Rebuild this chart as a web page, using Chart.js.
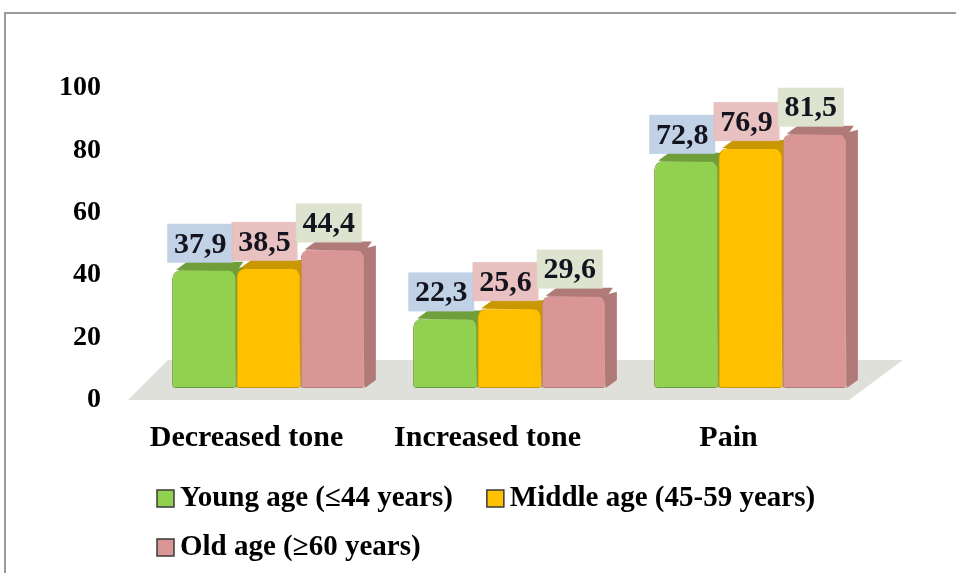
<!DOCTYPE html>
<html>
<head>
<meta charset="utf-8">
<script src="https://cdn.jsdelivr.net/npm/chart.js@4"></script>
<style>
  html, body { margin: 0; padding: 0; background: #fff; }
  #frame { position: absolute; left: 4px; top: 12px; width: 960px; height: 570px;
           border-top: 2px solid #9a9a9a; border-left: 2px solid #9a9a9a; }
  #chart { position: absolute; left: 0; top: 0; }
</style>
</head>
<body>
<div id="frame"></div>
<canvas id="chart" width="956" height="573"></canvas>
<script>
// categories and series values
const categories = ['Decreased tone', 'Increased tone', 'Pain'];
const seriesLabels = ['Young age (\u226444 years)', 'Middle age (45-59 years)', 'Old age (\u226560 years)'];
const youngValues = [37.9, 22.3, 72.8];
const middleValues = [38.5, 25.6, 76.9];
const oldValues = [44.4, 29.6, 81.5];

const serif = '"Liberation Serif", "Times New Roman", serif';
const frontColors = ['#92d050', '#ffc000', '#d99694'];
const shadeColors = ['#6f9e3a', '#c99700', '#b07a78'];
const boxColors = ['rgba(190,208,230,0.95)', 'rgba(232,190,190,0.95)', 'rgba(220,226,204,0.95)'];

// grey floor under the bars
const floorPlugin = {
    id: 'floor',
    beforeDatasetsDraw(chart) {
        const { ctx, chartArea, scales } = chart;
        const base = scales.y.getPixelForValue(0);
        ctx.save();
        ctx.fillStyle = '#e0e0da';
        ctx.beginPath();
        ctx.moveTo(chartArea.left - 20, base + 12);
        ctx.lineTo(chartArea.right - 22, base + 12);
        ctx.lineTo(chartArea.right + 32, base - 28);
        ctx.lineTo(chartArea.left + 20, base - 28);
        ctx.closePath();
        ctx.fill();
        ctx.restore();
    }
};

// top and side faces so the bars look like the 3D ones
const depthPlugin = {
    id: 'depth',
    beforeDatasetsDraw(chart) {
        const { ctx } = chart;
        const dx = 11, dy = 8;
        ctx.save();
        chart.data.datasets.forEach((ds, i) => {
            chart.getDatasetMeta(i).data.forEach(bar => {
                const x1 = bar.x - bar.width / 2;
                const x2 = bar.x + bar.width / 2;
                ctx.fillStyle = shadeColors[i];
                ctx.beginPath();
                ctx.moveTo(x2 - 4, bar.y);
                ctx.lineTo(x2 + dx, bar.y - dy + 4);
                ctx.lineTo(x2 + dx, bar.base - dy);
                ctx.lineTo(x2, bar.base);
                ctx.closePath();
                ctx.fill();
                ctx.beginPath();
                ctx.moveTo(x1 + 4, bar.y);
                ctx.lineTo(x1 + dx + 4, bar.y - dy);
                ctx.lineTo(x2 + dx - 4, bar.y - dy);
                ctx.lineTo(x2, bar.y + 2);
                ctx.closePath();
                ctx.fill();
            });
        });
        ctx.restore();
    }
};

// value boxes above each bar
const valueBoxPlugin = {
    id: 'valueBoxes',
    afterDatasetsDraw(chart) {
        const { ctx } = chart;
        ctx.save();
        ctx.font = 'bold 30px ' + serif;
        ctx.textAlign = 'center';
        ctx.textBaseline = 'middle';
        chart.data.datasets.forEach((ds, i) => {
            chart.getDatasetMeta(i).data.forEach((bar, j) => {
                const cx = bar.x - 4, bottom = bar.y - 7;
                ctx.fillStyle = boxColors[i];
                ctx.fillRect(cx - 33, bottom - 39, 66, 39);
                ctx.fillStyle = '#14141e';
                ctx.fillText(ds.data[j].toFixed(1).replace('.', ','), cx, bottom - 18);
            });
        });
        ctx.restore();
    }
};

// legend laid out left-aligned in two rows like the original
const legendPlugin = {
    id: 'bottomLegend',
    afterDraw(chart) {
        const { ctx } = chart;
        ctx.save();
        ctx.font = 'bold 29px ' + serif;
        ctx.textBaseline = 'middle';
        let x = 157, y = 498;
        chart.data.datasets.forEach((ds, i) => {
            const w = 23 + ctx.measureText(ds.label).width;
            if (x + w > chart.width - 20) { x = 157; y += 49; }
            ctx.fillStyle = ds.backgroundColor;
            ctx.fillRect(x, y - 8, 17, 17);
            ctx.strokeStyle = '#3a3a3a';
            ctx.lineWidth = 1.5;
            ctx.strokeRect(x, y - 8, 17, 17);
            ctx.fillStyle = '#000';
            ctx.fillText(ds.label, x + 23, y + 1);
            x += w + 34;
        });
        ctx.restore();
    }
};

const allValues = [youngValues, middleValues, oldValues];

new Chart(document.getElementById('chart').getContext('2d'), {
    type: 'bar',
    data: {
        labels: categories,
        datasets: allValues.map((vals, i) => ({
            label: seriesLabels[i],
            data: vals,
            backgroundColor: frontColors[i],
            borderColor: shadeColors[i],
            borderWidth: 1,
            borderRadius: { topLeft: 9, topRight: 9, bottomLeft: 3, bottomRight: 3 },
            borderSkipped: false,
            barPercentage: 1.0,
            categoryPercentage: 0.8
        }))
    },
    options: {
        responsive: false,
        animation: false,
        layout: { padding: { top: 76, right: 85, bottom: 118, left: 0 } },
        plugins: {
            legend: { display: false },
            tooltip: { enabled: false }
        },
        scales: {
            x: {
                grid: { display: false, drawTicks: false },
                border: { display: false },
                afterFit(scale) { scale.height = 67; },
                ticks: { color: '#000', padding: 32, labelOffset: -22,
                         font: { family: serif, size: 30, weight: 'bold' } }
            },
            y: {
                min: 0,
                max: 100,
                grid: { display: false, drawTicks: false },
                border: { display: false },
                afterFit(scale) { scale.width = 148; },
                ticks: { stepSize: 20, color: '#000', padding: 47, labelOffset: 12,
                         font: { family: serif, size: 28, weight: 'bold' } }
            }
        }
    },
    plugins: [floorPlugin, depthPlugin, valueBoxPlugin, legendPlugin]
});
</script>
</body>
</html>
